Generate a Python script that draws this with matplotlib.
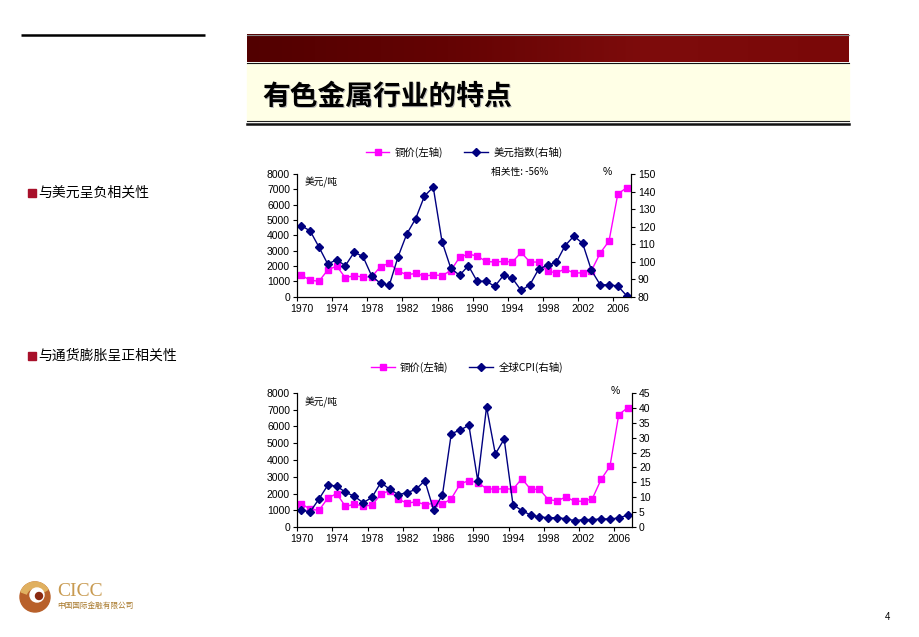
import numpy as np
import matplotlib
matplotlib.use("Agg")
import matplotlib.pyplot as plt
from matplotlib.patches import Rectangle, Circle, Wedge
from matplotlib.colors import LinearSegmentedColormap

plt.rcParams['font.family'] = ['Liberation Sans', 'Noto Sans CJK SC']
plt.rcParams['axes.unicode_minus'] = False

# data
years = list(range(1970, 2008))
copper = [1400, 1070, 1010, 1740, 2000, 1240, 1370, 1280, 1300, 1960,
          2180, 1670, 1430, 1520, 1350, 1420, 1380, 1700, 2570, 2780,
          2650, 2300, 2260, 2300, 2260, 2890, 2260, 2260, 1650, 1570,
          1800, 1550, 1550, 1700, 2850, 3630, 6700, 7100]
usd_index = [120.5, 117.5, 108.3, 98.6, 101.1, 97.7, 105.3, 103.0, 91.8, 87.6,
             86.5, 102.8, 115.9, 124.5, 137.4, 142.5, 111.4, 96.2, 92.2, 97.7,
             88.7, 88.9, 85.9, 92.2, 90.5, 83.6, 86.8, 95.8, 97.9, 99.6,
             109.1, 114.6, 110.4, 95.0, 86.8, 86.8, 86.1, 80.6]
world_cpi = [5.7, 5.2, 9.5, 14.1, 13.8, 11.7, 10.4, 8.2, 10.0, 14.9,
             12.8, 10.9, 11.6, 12.7, 15.6, 5.8, 10.9, 31.3, 32.5, 34.1,
             15.6, 40.2, 24.5, 29.5, 7.6, 5.6, 4.1, 3.5, 3.2, 3.2,
             2.9, 2.2, 2.6, 2.6, 2.8, 2.8, 3.1, 4.1]
year_labels = list(range(1970, 2008, 4))

PINK = "#FF00FF"
NAVY = "#000080"
W, H = 920, 637

fig = plt.figure(figsize=(9.2, 6.37), dpi=100)
fig.patch.set_facecolor("white")

# page decoration layer, pixel coords
bg = fig.add_axes([0, 0, 1, 1], zorder=0)
bg.set_xlim(0, W); bg.set_ylim(H, 0); bg.axis("off")

bg.plot([21, 205], [35, 35], color="black", lw=1.8, solid_capstyle="butt")

# banner
bg.add_patch(Rectangle((247, 62.5), 602, 58, color="#FFFFE6", zorder=1))
cmap = LinearSegmentedColormap.from_list("band", ["#520000", "#640303", "#7e0c0c", "#7a0808"])
grad = np.linspace(0, 1, 256).reshape(1, -1)
bg.imshow(grad, cmap=cmap, extent=[247, 849, 62.5, 35.3], aspect="auto", zorder=2)
bg.plot([247, 849], [34.8, 34.8], color="#888888", lw=0.8, zorder=3)
bg.plot([247, 849], [62.8, 62.8], color="#111111", lw=0.8, zorder=3)
bg.plot([247, 849], [120.8, 120.8], color="#222222", lw=0.8, zorder=3)
bg.plot([247, 849], [124.2, 124.2], color="#111111", lw=1.8, zorder=3)
title = "有色金属行业的特点"
bg.text(263.5, 98, title, fontsize=20, fontweight="bold", color="#bbbbbb",
        family="Noto Sans CJK SC", va="center", ha="left", zorder=4)
bg.text(262.5, 97, title, fontsize=20, fontweight="bold", color="black",
        family="Noto Sans CJK SC", va="center", ha="left", zorder=5)

# bullets
for yb, txt in [(193, "与美元呈负相关性"), (356, "与通货膨胀呈正相关性")]:
    bg.add_patch(Rectangle((28, yb - 4), 8, 8, color="#A8102A", zorder=3))
    bg.text(38, yb, txt, fontsize=10, family="Noto Sans CJK SC",
            va="center", ha="left", color="black")

# logo
bg.add_patch(Circle((35, 597), 15, color="#B8602A", zorder=2))
bg.add_patch(Wedge((35, 597), 15, 200, 330, width=6, color="#E0B060", zorder=3))
bg.add_patch(Circle((37, 595), 7, color="white", zorder=4))
bg.add_patch(Circle((39, 596), 3.5, color="#8B2A10", zorder=5))
bg.text(57, 591, "CICC", fontsize=14, color="#C89A50", family="Liberation Serif",
        va="center", ha="left")
bg.text(57, 606, "中国国际金融有限公司", fontsize=5.5, color="#A8782A",
        family="Noto Sans CJK SC", va="center", ha="left")
bg.text(888, 617, "4", fontsize=7, va="center", ha="center")


def setup_axes(ax, ax2, rlim, rstep):
    ax.set_xlim(1969.5, 2007.5)
    ax.set_ylim(0, 8000)
    ax.set_yticks(range(0, 8001, 1000))
    ax.set_xticks(year_labels)
    ax.set_xticklabels([str(y) for y in year_labels])
    ax.set_xticks(np.arange(1969.5, 2008, 4), minor=True)
    ax.tick_params(axis="x", which="major", length=0, pad=5, labelsize=7.5)
    ax.tick_params(axis="x", which="minor", length=3, width=0.8, direction="out")
    ax.tick_params(axis="y", length=3, width=0.8, labelsize=7.5, pad=2)
    ax2.set_ylim(*rlim)
    ax2.set_yticks(np.arange(rlim[0], rlim[1] + 0.1, rstep))
    ax2.tick_params(axis="y", length=3, width=0.8, labelsize=7.5, pad=2)
    for a in (ax, ax2):
        a.spines["top"].set_visible(False)
        for s in ("left", "right", "bottom"):
            a.spines[s].set_linewidth(0.8)
    ax.patch.set_alpha(0)


# chart 1: copper vs dollar index
ax1 = fig.add_axes([297 / W, 1 - 296.7 / H, 334 / W, 122.7 / H], zorder=2)
ax1r = ax1.twinx()
l1, = ax1.plot(years, copper, color=PINK, lw=1, marker="s", ms=4.5)
l2, = ax1r.plot(years, usd_index, color=NAVY, lw=1, marker="D", ms=3.8)
setup_axes(ax1, ax1r, (80, 150), 10)
ax1.text(0.022, 0.93, "美元/吨", transform=ax1.transAxes, fontsize=7,
         family="Noto Sans CJK SC", va="center", ha="left")
ax1.text(0.58, 1.02, "相关性: -56%", transform=ax1.transAxes, fontsize=7,
         family=["Noto Sans CJK SC"], va="center", ha="left")
ax1.text(0.93, 1.02, "%", transform=ax1.transAxes, fontsize=7.5, va="center", ha="center")
ax1.legend([l1, l2], ["铜价(左轴)", "美元指数(右轴)"], ncol=2, frameon=False,
           loc="center", bbox_to_anchor=(464 / W, 1 - 152.3 / H),
           bbox_transform=fig.transFigure, prop={"family": "Noto Sans CJK SC", "size": 7.5},
           handlelength=2.3, handletextpad=0.5, columnspacing=2.0)

# chart 2: copper vs world CPI
ax2 = fig.add_axes([297 / W, 1 - 527.3 / H, 335 / W, 134.6 / H], zorder=2)
ax2r = ax2.twinx()
m1, = ax2.plot(years, copper, color=PINK, lw=1, marker="s", ms=4.5)
m2, = ax2r.plot(years, world_cpi, color=NAVY, lw=1, marker="D", ms=3.8)
setup_axes(ax2, ax2r, (0, 45), 5)
ax2.text(0.022, 0.93, "美元/吨", transform=ax2.transAxes, fontsize=7,
         family="Noto Sans CJK SC", va="center", ha="left")
ax2.text(0.95, 1.01, "%", transform=ax2.transAxes, fontsize=7.5, va="center", ha="center")
ax2.legend([m1, m2], ["铜价(左轴)", "全球CPI(右轴)"], ncol=2, frameon=False,
           loc="center", bbox_to_anchor=(467 / W, 1 - 367 / H),
           bbox_transform=fig.transFigure, prop={"family": "Noto Sans CJK SC", "size": 7.5},
           handlelength=2.3, handletextpad=0.5, columnspacing=2.0)

fig.savefig("out.png", dpi=100)
